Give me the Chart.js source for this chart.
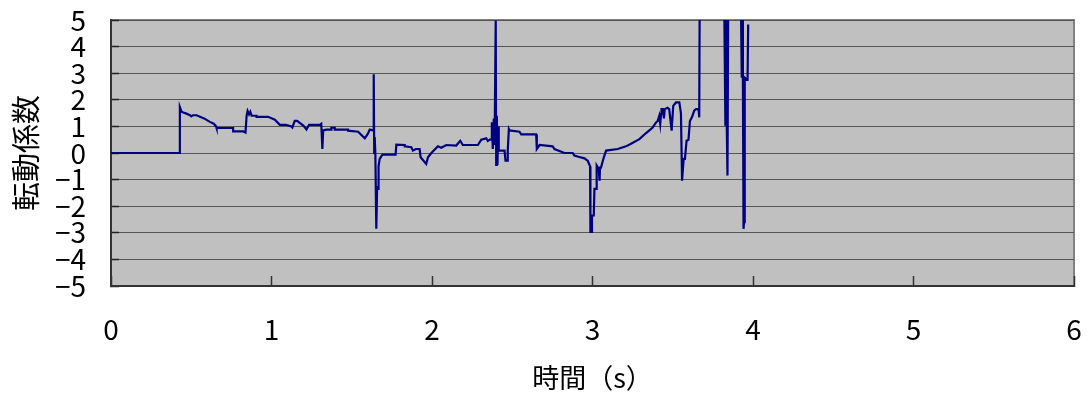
<!DOCTYPE html>
<html>
<head>
<meta charset="utf-8">
<script src="https://cdn.jsdelivr.net/npm/chart.js@4/dist/chart.umd.min.js"></script>
<style>
  body { margin: 0; background: #fff; }
  #c { display: block; }
</style>
</head>
<body>
<canvas id="c" width="1090" height="396"></canvas>
<script>
// 時間 (s)
const timeS = [
  0, 0.429, 0.429, 0.44, 0.450, 0.47, 0.492, 0.50, 0.51, 0.533,
  0.58, 0.616, 0.64, 0.655, 0.658, 0.761, 0.761, 0.824, 0.838, 0.845,
  0.851, 0.86, 0.868, 0.876, 0.907, 0.907, 0.979, 1.021, 1.052, 1.09,
  1.124, 1.13, 1.145, 1.16, 1.176, 1.20, 1.218, 1.234, 1.301, 1.31,
  1.317, 1.322, 1.342, 1.373, 1.373, 1.394, 1.394, 1.477, 1.477, 1.540,
  1.581, 1.60, 1.612, 1.633, 1.637, 1.640, 1.643, 1.647, 1.653, 1.658,
  1.664, 1.667, 1.674, 1.691, 1.773, 1.778, 1.830, 1.830, 1.871, 1.881,
  1.900, 1.923, 1.929, 1.964, 1.975, 1.996, 2.037, 2.058, 2.089, 2.151,
  2.176, 2.192, 2.286, 2.307, 2.338, 2.348, 2.360, 2.370, 2.373, 2.379,
  2.385, 2.390, 2.397, 2.400, 2.404, 2.408, 2.412, 2.416, 2.452, 2.458,
  2.470, 2.472, 2.479, 2.483, 2.545, 2.556, 2.649, 2.653, 2.670, 2.752,
  2.763, 2.825, 2.877, 2.887, 2.918, 2.950, 2.970, 2.985, 2.987, 2.997,
  2.997, 3.008, 3.012, 3.022, 3.026, 3.039, 3.044, 3.047, 3.053, 3.064,
  3.074, 3.085, 3.157, 3.209, 3.240, 3.292, 3.334, 3.375, 3.396, 3.406,
  3.416, 3.422, 3.427, 3.430, 3.440, 3.445, 3.450, 3.468, 3.478, 3.493,
  3.503, 3.520, 3.541, 3.551, 3.558, 3.568, 3.576, 3.586, 3.598, 3.607,
  3.620, 3.634, 3.645, 3.661, 3.665, 3.670, 3.80, 3.821, 3.828, 3.832,
  3.836, 3.841, 3.848, 3.92, 3.925, 3.930, 3.934, 3.937, 3.941, 3.944,
  3.947, 3.950, 3.962, 3.966, 3.970
];
// 転動係数
const rollCoef = [
  0, 0, 1.73, 1.55, 1.52, 1.48, 1.42, 1.38, 1.42, 1.42,
  1.30, 1.17, 1.10, 1.0, 0.94, 0.94, 0.81, 0.81, 0.77, 1.40,
  1.58, 1.45, 1.55, 1.40, 1.40, 1.36, 1.36, 1.25, 1.06, 1.06,
  1.00, 0.96, 1.21, 1.21, 1.13, 1.02, 0.88, 1.06, 1.06, 1.10,
  0.15, 0.85, 0.88, 0.88, 0.95, 0.95, 0.88, 0.88, 0.84, 0.80,
  0.55, 0.72, 0.88, 0.85, 2.96, 0.0, 0.6, 0.0, -2.85, -1.30,
  -1.35, -0.5, -0.22, -0.06, -0.06, 0.31, 0.30, 0.25, 0.22, 0.09,
  0.15, 0.15, -0.16, -0.41, -0.16, 0.0, 0.25, 0.20, 0.30, 0.28,
  0.46, 0.30, 0.30, 0.50, 0.55, 0.45, 0.50, 0.50, 1.16, 0.15,
  1.30, 0.30, 4.98, -0.45, 1.40, -0.45, 1.0, 0.09, 0.09, -0.29,
  -0.29, 0.09, 0.90, 0.85, 0.80, 0.70, 0.70, 0.15, 0.30, 0.25,
  0.15, 0.00, 0.0, -0.10, -0.15, -0.20, -0.29, -0.50, -2.97, -2.97,
  -2.35, -2.35, -1.35, -1.35, -0.47, -0.6, -1.04, -0.55, -0.55, -0.30,
  -0.1, 0.09, 0.15, 0.25, 0.35, 0.52, 0.75, 0.96, 1.15, 1.20,
  1.40, 1.10, 1.46, 1.65, 1.65, 1.30, 1.65, 1.70, 1.65, 0.84,
  1.77, 1.90, 1.90, 1.50, -1.04, -0.22, -0.22, 0.46, 0.50, 1.20,
  1.35, 1.59, 1.65, 1.65, 1.34, 9, 9, 5.5, 1.02, 5.5,
  1.2, -0.85, 9, 9, 5.5, 2.83, 5.5, 2.83, -2.85, -2.6,
  2.83, 2.83, 2.75, 2.75, 4.83
];

const points = timeS.map((t, i) => ({ x: t, y: rollCoef[i] }));

const font = 'Noto Sans CJK JP';

// gray plot area with a light frame on top / right
const plotBg = {
  id: 'plotBg',
  beforeDraw(chart) {
    const { ctx, chartArea: a } = chart;
    ctx.save();
    ctx.fillStyle = '#c0c0c0';
    ctx.fillRect(a.left, a.top, a.right - a.left, a.bottom - a.top);
    ctx.strokeStyle = '#808080';
    ctx.lineWidth = 2;
    ctx.beginPath();
    ctx.moveTo(a.left, a.top);
    ctx.lineTo(a.right, a.top);
    ctx.lineTo(a.right, a.bottom);
    ctx.stroke();
    ctx.restore();
  }
};

function noPad(s) {
  s.paddingTop = 0;
  s.paddingBottom = 0;
  s.paddingLeft = 0;
  s.paddingRight = 0;
}

const ctx = document.getElementById('c').getContext('2d');
new Chart(ctx, {
  type: 'line',
  data: {
    datasets: [{
      data: points,
      borderColor: '#000080',
      borderWidth: 2.2,
      pointRadius: 0,
      tension: 0,
      fill: false
    }]
  },
  options: {
    responsive: false,
    animation: false,
    layout: { padding: { left: 0, right: 16, top: 20, bottom: 0 } },
    plugins: { legend: { display: false }, tooltip: { enabled: false } },
    scales: {
      x: {
        type: 'linear',
        min: 0,
        max: 6,
        afterFit: s => { s.height = 110; noPad(s); },
        ticks: {
          stepSize: 1,
          padding: 37,
          color: '#000',
          font: { family: font, size: 28 }
        },
        grid: { drawOnChartArea: false, drawTicks: true, tickLength: -10, tickColor: '#333', tickWidth: 1.5 },
        border: { display: true, color: '#333', width: 2 },
        title: {
          display: true,
          text: '時間（s）',
          color: '#000',
          font: { family: font, size: 27 },
          padding: { top: 0, bottom: 2 }
        }
      },
      y: {
        min: -5,
        max: 5,
        afterFit: s => { s.width = 111; noPad(s); },
        ticks: {
          stepSize: 1,
          autoSkip: false,
          padding: 33,
          color: '#000',
          font: { family: font, size: 28 },
          callback: v => String(v).replace('-', '−')
        },
        grid: { color: '#555', lineWidth: 1, drawTicks: true, tickLength: -8, tickColor: '#222', tickWidth: 1.5 },
        border: { display: true, color: '#333', width: 2 },
        title: {
          display: true,
          text: '転動係数',
          color: '#000',
          font: { family: font, size: 29 },
          padding: { top: 9, bottom: 0 }
        }
      }
    }
  },
  plugins: [plotBg]
});
</script>
</body>
</html>
